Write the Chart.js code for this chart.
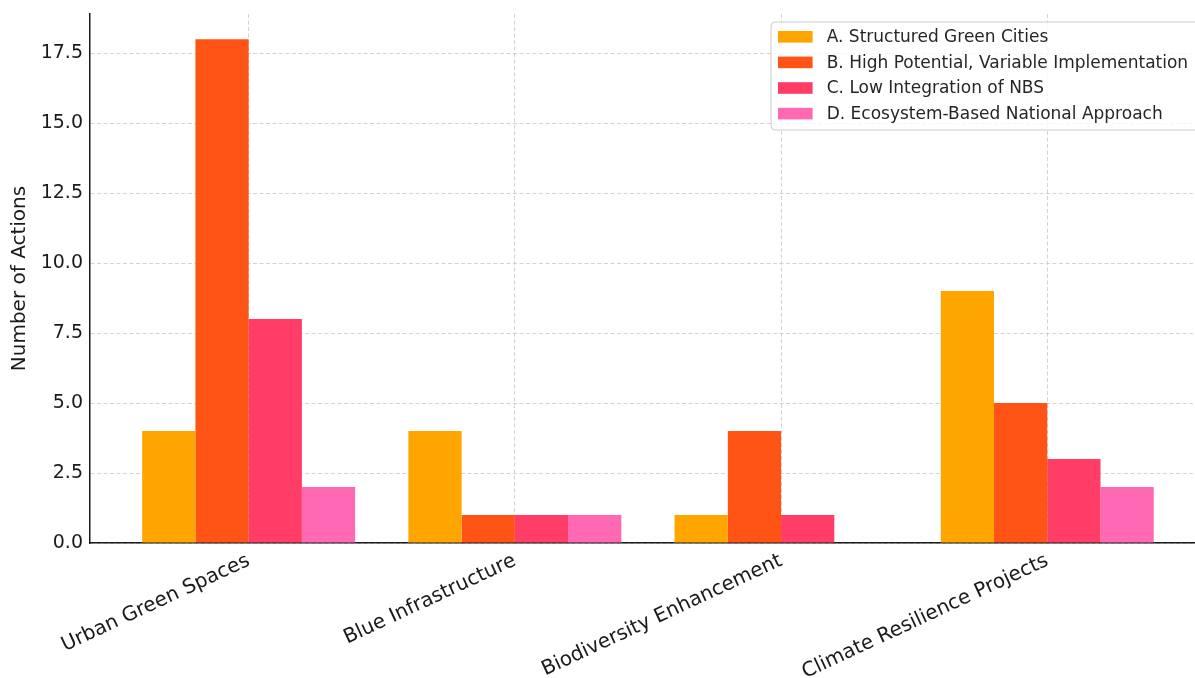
<!DOCTYPE html>
<html>
<head>
<meta charset="utf-8">
<script src="https://cdn.jsdelivr.net/npm/chart.js@4.4.1/dist/chart.umd.min.js"></script>
<style>
  html, body { margin: 0; padding: 0; background: #fff; }
</style>
</head>
<body>
<canvas id="actionsChart" width="1195" height="678"></canvas>
<script>
// action counts per NBS category, one list per city group
const categories = ['Urban Green Spaces', 'Blue Infrastructure', 'Biodiversity Enhancement', 'Climate Resilience Projects'];
const groupNames = [
  'A. Structured Green Cities',
  'B. High Potential, Variable Implementation',
  'C. Low Integration of NBS',
  'D. Ecosystem-Based National Approach'
];
const structuredGreen = [4, 4, 1, 9];
const highPotential = [18, 1, 4, 5];
const lowIntegration = [8, 1, 1, 3];
const ecosystemNational = [2, 1, 0, 2];

const groupColors = ['#FFA500', '#FF5416', '#FF3D66', '#FF69B4'];
const gridColor = 'rgba(200, 200, 200, 0.8)';
const inkColor = '#1a1a1a';

Chart.defaults.font.family = "'DejaVu Sans', sans-serif";
Chart.defaults.color = inkColor;

function toPoints(values) {
  return values.map((v, i) => ({ x: i, y: v }));
}

// framed legend in the upper right corner of the plot
const boxLegend = {
  id: 'boxLegend',
  afterDraw(chart) {
    const { ctx, chartArea } = chart;
    const left = chartArea.right - 424;
    const top = chartArea.top + 8;
    const w = 440, h = 108;
    ctx.save();
    ctx.beginPath();
    ctx.roundRect(left, top, w, h, 4);
    ctx.fillStyle = 'rgba(255,255,255,0.8)';
    ctx.fill();
    ctx.strokeStyle = '#cccccc';
    ctx.lineWidth = 1;
    ctx.stroke();
    ctx.font = "17px 'DejaVu Sans'";
    ctx.textBaseline = 'middle';
    chart.data.datasets.forEach((ds, i) => {
      const py = top + 9 + i * 25.6;
      ctx.fillStyle = ds.backgroundColor;
      ctx.fillRect(left + 7, py, 34.6, 11.6);
      ctx.fillStyle = '#262626';
      ctx.fillText(ds.label, left + 55.7, py + 6.5);
    });
    ctx.restore();
  }
};

const seriesValues = [structuredGreen, highPotential, lowIntegration, ecosystemNational];

new Chart(document.getElementById('actionsChart'), {
  type: 'bar',
  data: {
    datasets: seriesValues.map((vals, i) => ({
      label: groupNames[i],
      data: toPoints(vals),
      backgroundColor: groupColors[i],
      borderWidth: 0,
      categoryPercentage: 0.8,
      barPercentage: 1.0
    }))
  },
  options: {
    responsive: false,
    animation: false,
    devicePixelRatio: 1,
    layout: { padding: { top: 14, right: 0, left: 0, bottom: 0 } },
    plugins: {
      legend: { display: false },
      tooltip: { enabled: false }
    },
    scales: {
      x: {
        type: 'linear',
        min: -0.596,
        max: 3.555,
        offset: false,
        z: 1,
        afterBuildTicks: axis => { axis.ticks = categories.map((c, i) => ({ value: i })); },
        afterFit: axis => { axis.height = 135; },
        ticks: {
          callback: v => categories[v],
          autoSkip: false,
          minRotation: 25,
          maxRotation: 25,
          padding: 6,
          color: inkColor,
          font: { size: 20 }
        },
        grid: { color: gridColor, lineWidth: 1, drawTicks: false, offset: false },
        border: { display: true, color: inkColor, width: 1.5, dash: [4, 2.5] }
      },
      y: {
        min: 0,
        max: 18.9,
        z: 1,
        afterFit: axis => {
          axis.width = 90;
          axis.paddingTop = 0;
          axis.paddingBottom = 0;
        },
        ticks: {
          stepSize: 2.5,
          includeBounds: false,
          callback: v => v.toFixed(1),
          padding: 7,
          color: inkColor,
          font: { size: 19 }
        },
        grid: { color: gridColor, lineWidth: 1, drawTicks: false },
        border: { display: true, color: inkColor, width: 1.5, dash: [4, 2.5] },
        title: {
          display: true,
          text: 'Number of Actions',
          color: inkColor,
          font: { size: 20 },
          padding: { top: 8, bottom: 0 }
        }
      }
    }
  },
  plugins: [boxLegend]
});
</script>
</body>
</html>
